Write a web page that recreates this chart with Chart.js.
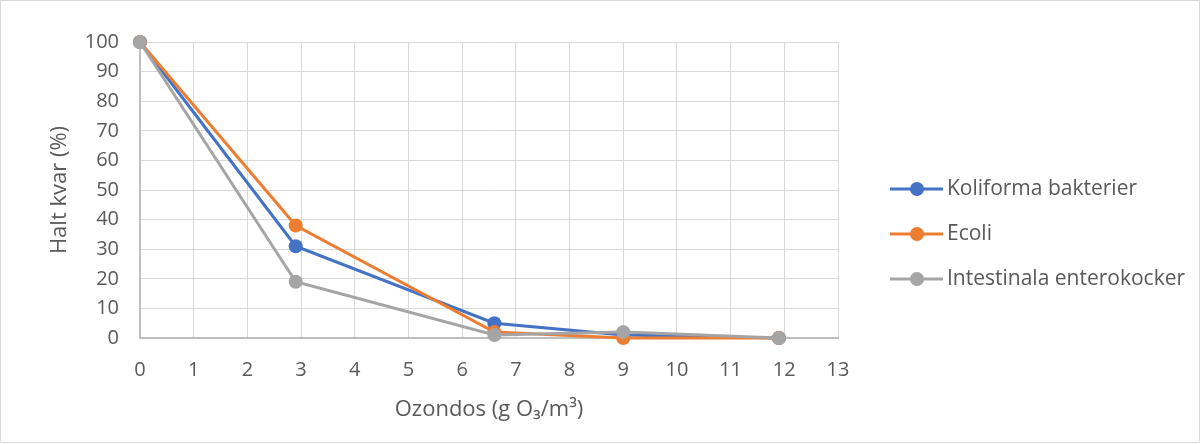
<!DOCTYPE html>
<html>
<head>
<meta charset="utf-8">
<script src="https://cdn.jsdelivr.net/npm/chart.js@4/dist/chart.umd.min.js"></script>
<style>
  body { margin: 0; background: #fff; }
  canvas { display: block; }
</style>
</head>
<body>
<canvas id="ozon" width="1201" height="444"></canvas>
<script>
// ozone dose (g O3/m3) and share of bacteria left (%)
const doses = [0, 2.9, 6.6, 9, 11.9];
const koliforma = [100, 31, 5, 1, 0];
const ecoli = [100, 38, 2, 0, 0];
const enterokocker = [100, 19, 1, 2, 0];
const seriesNames = ["Koliforma bakterier", "Ecoli", "Intestinala enterokocker"];
const seriesColors = ["#4472C4", "#ED7D31", "#A5A5A5"];

const FONT = "'Open Sans', sans-serif";
const TEXT = "#595959";

function points(vals) {
  return vals.map((v, i) => ({ x: doses[i], y: v }));
}

function makeSet(i, vals) {
  return {
    label: seriesNames[i],
    data: points(vals),
    borderColor: seriesColors[i],
    backgroundColor: seriesColors[i],
    borderWidth: 3,
    pointRadius: 7,
    pointHoverRadius: 7,
    pointBorderWidth: 0,
    tension: 0,
    clip: false,
    order: 2 - i   // last series ends up on top
  };
}

// white background + thin frame around the whole chart
const frame = {
  id: "frame",
  beforeDraw(chart) {
    const ctx = chart.ctx;
    ctx.save();
    ctx.fillStyle = "#fff";
    ctx.fillRect(0, 0, chart.width, chart.height);
    ctx.strokeStyle = "#d9d9d9";
    ctx.lineWidth = 1;
    ctx.strokeRect(0.5, 0.5, chart.width - 2, chart.height - 2);
    ctx.restore();
  }
};

// legend on the right: line with a dot, then the name
const sideLegend = {
  id: "sideLegend",
  afterDraw(chart) {
    const ctx = chart.ctx;
    const x0 = 890, y0 = 189, step = 45;
    ctx.save();
    ctx.font = "21px " + FONT;
    ctx.textBaseline = "middle";
    chart.data.datasets.forEach((ds, i) => {
      const y = y0 + i * step;
      ctx.strokeStyle = ds.borderColor;
      ctx.lineWidth = 3;
      ctx.beginPath();
      ctx.moveTo(x0, y);
      ctx.lineTo(x0 + 53, y);
      ctx.stroke();
      ctx.fillStyle = ds.borderColor;
      ctx.beginPath();
      ctx.arc(x0 + 27, y, 7, 0, Math.PI * 2);
      ctx.fill();
      ctx.fillStyle = TEXT;
      ctx.fillText(ds.label, x0 + 57, y);
    });
    ctx.restore();
  }
};

new Chart(document.getElementById("ozon"), {
  type: "line",
  data: {
    datasets: [
      makeSet(0, koliforma),
      makeSet(1, ecoli),
      makeSet(2, enterokocker)
    ]
  },
  options: {
    responsive: false,
    animation: false,
    layout: { padding: { left: 0, top: 42, right: 363, bottom: 0 } },
    plugins: {
      legend: { display: false },
      tooltip: { enabled: false }
    },
    scales: {
      x: {
        type: "linear",
        min: 0,
        max: 13,
        afterFit: s => { s.height = 106; },
        ticks: { stepSize: 1, padding: 20, color: TEXT, font: { family: FONT, size: 20 } },
        grid: { color: "#d9d9d9", drawTicks: false },
        border: { color: "#bfbfbf", width: 2 },
        title: {
          display: true,
          text: "Ozondos (g O\u2083/m\u00b3)",
          color: TEXT,
          font: { family: FONT, size: 22 },
          padding: { top: 0, bottom: 21 }
        }
      },
      y: {
        min: 0,
        max: 100,
        afterFit: s => { s.width = 140; },
        ticks: { stepSize: 10, padding: 21, color: TEXT, font: { family: FONT, size: 20 } },
        grid: { color: "#d9d9d9", drawTicks: false },
        border: { color: "#bfbfbf", width: 2 },
        title: {
          display: true,
          text: "Halt kvar (%)",
          color: TEXT,
          font: { family: FONT, size: 22 },
          padding: { top: 47, bottom: 0 }
        }
      }
    }
  },
  plugins: [frame, sideLegend]
});
</script>
</body>
</html>
